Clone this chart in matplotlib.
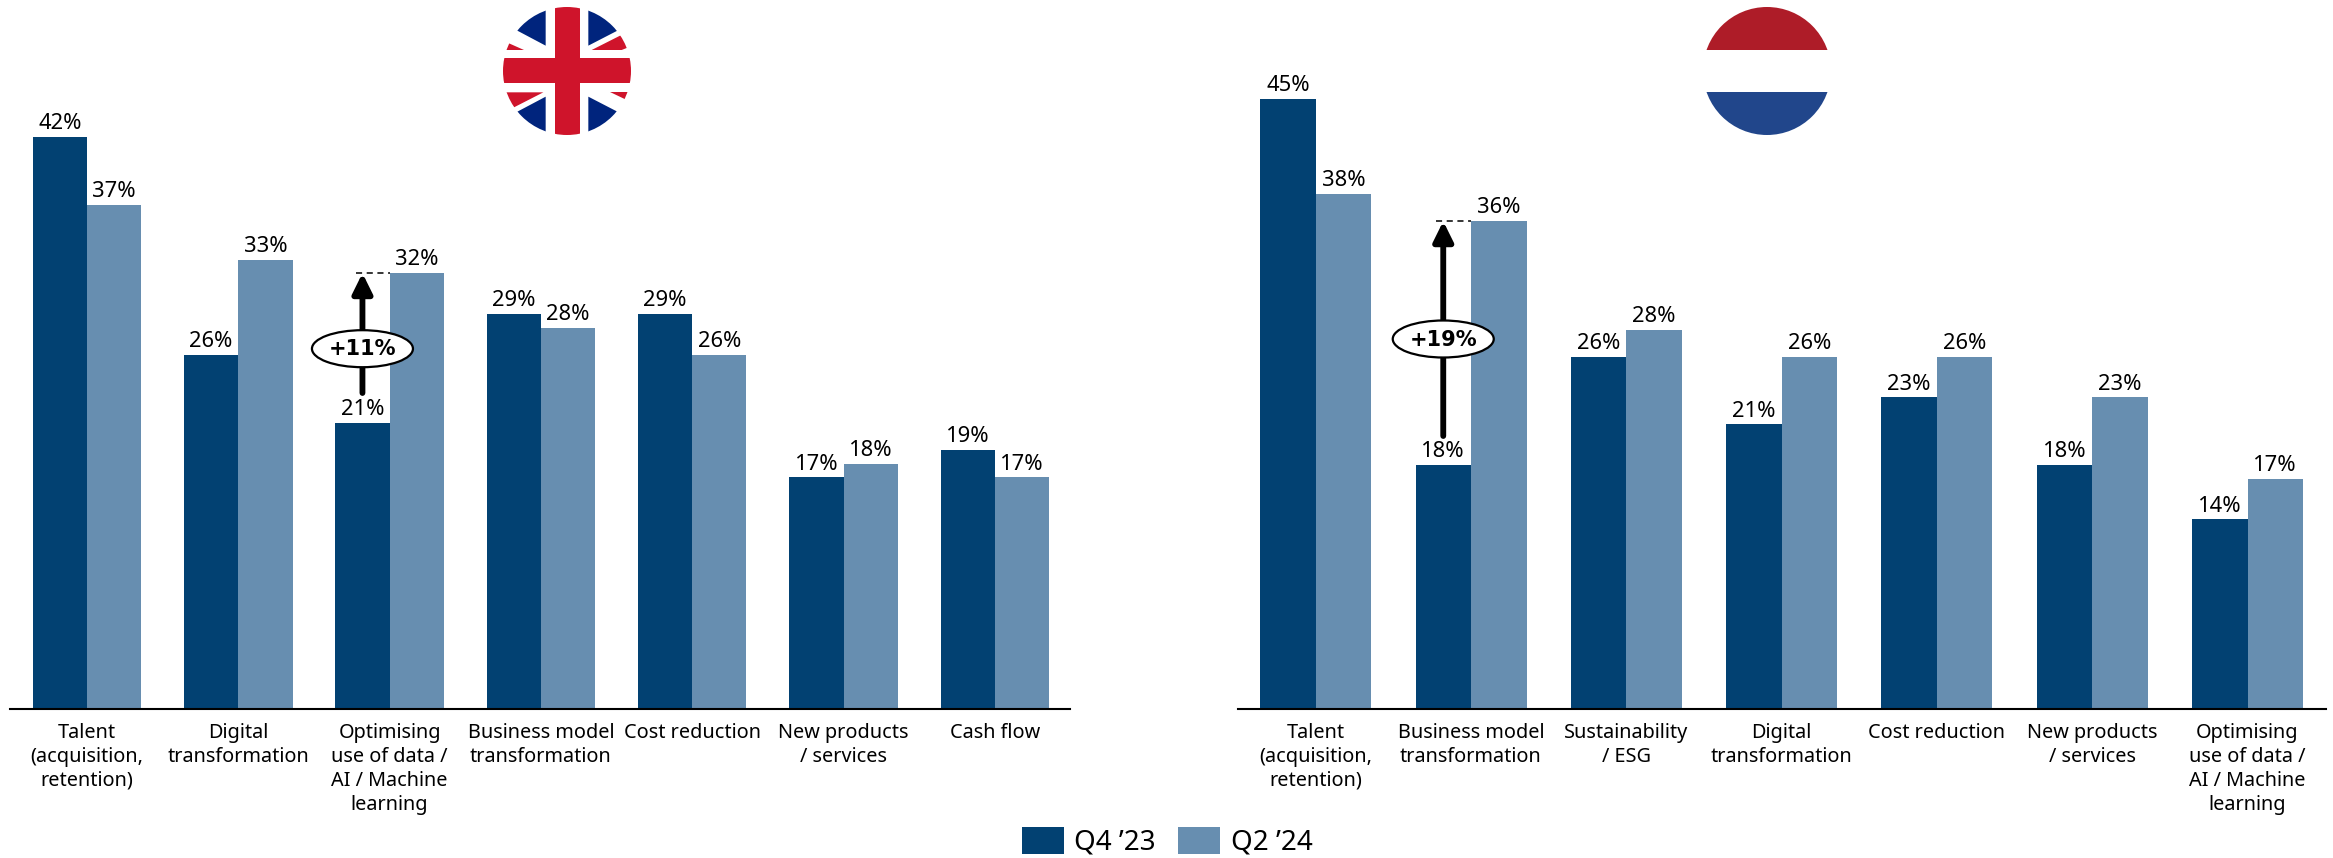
import matplotlib
matplotlib.use("Agg")
import matplotlib.pyplot as plt
from matplotlib.patches import Circle, Ellipse, Polygon, Rectangle

plt.rcParams['font.family'] = ['Noto Sans', 'DejaVu Sans']

W, H = 2333, 858
DARK = '#024172'
LIGHT = '#678EB0'
SERIES = ["Q4 ’23", "Q2 ’24"]

uk_categories = ["Talent\n(acquisition,\nretention)", "Digital\ntransformation",
                 "Optimising\nuse of data /\nAI / Machine\nlearning",
                 "Business model\ntransformation", "Cost reduction",
                 "New products\n/ services", "Cash flow"]
uk_q4_23 = [42, 26, 21, 29, 29, 17, 19]
uk_q2_24 = [37, 33, 32, 28, 26, 18, 17]

nl_categories = ["Talent\n(acquisition,\nretention)", "Business model\ntransformation",
                 "Sustainability\n/ ESG", "Digital\ntransformation", "Cost reduction",
                 "New products\n/ services",
                 "Optimising\nuse of data /\nAI / Machine\nlearning"]
nl_q4_23 = [45, 18, 26, 21, 23, 18, 14]
nl_q2_24 = [38, 36, 28, 26, 26, 23, 17]

BASE_Y = 709
VALUE_PT = 15.8
CATEGORY_PT = 14.3


def make_panel(fig, x0, x1, center0, spacing, bar_px, px_per_pct, cats, a, b):
    ax = fig.add_axes([x0 / W, 1 - BASE_Y / H, (x1 - x0) / W, BASE_Y / H])
    ax.set_xlim((x0 - center0) / spacing, (x1 - center0) / spacing)
    ax.set_ylim(0, BASE_Y / px_per_pct)
    ax.patch.set_alpha(0)
    w = bar_px / spacing
    pos = list(range(len(cats)))
    b1 = ax.bar([p - w / 2 for p in pos], a, w, color=DARK, label=SERIES[0])
    b2 = ax.bar([p + w / 2 for p in pos], b, w, color=LIGHT, label=SERIES[1])
    for bars in (b1, b2):
        ax.bar_label(bars, fmt='%d%%', padding=2.0, fontsize=VALUE_PT, color='black')
    for s in ('top', 'left', 'right'):
        ax.spines[s].set_visible(False)
    ax.spines['bottom'].set_linewidth(1.5)
    ax.spines['bottom'].set_color('black')
    ax.set_yticks([])
    ax.set_xticks(pos)
    ax.set_xticklabels(cats, fontsize=CATEGORY_PT, linespacing=1.26)
    ax.tick_params(axis='x', length=0, pad=10)
    return ax, b1, b2


fig = plt.figure(figsize=(W / 100, H / 100), dpi=100, facecolor='white')

ax_uk, uk_b1, uk_b2 = make_panel(fig, 10, 1070, 87, 151.3, 54.3, 13.62,
                                 uk_categories, uk_q4_23, uk_q2_24)
ax_nl, nl_b1, nl_b2 = make_panel(fig, 1238, 2326, 1315.7, 155.3, 55.5, 13.55,
                                 nl_categories, nl_q4_23, nl_q2_24)

# Overlay in pixel space for flags and change callouts
ov = fig.add_axes([0, 0, 1, 1], zorder=5)
ov.set_xlim(0, W)
ov.set_ylim(H, 0)
ov.axis('off')
ov.patch.set_alpha(0)


def callout(ax, bar, value, y_start, y_ell, text):
    """Upward arrow from a bar label to the level of the later value."""
    x_data = bar.get_x() + bar.get_width() / 2
    right_edge = bar.get_x() + bar.get_width()
    ax.annotate('', xy=(x_data, value), xycoords='data',
                xytext=(x_data, (BASE_Y - y_start) * ax.get_ylim()[1] / BASE_Y),
                arrowprops=dict(arrowstyle='-|>,head_width=0.42,head_length=0.85',
                                lw=4.2, color='black', shrinkA=0, shrinkB=0,
                                mutation_scale=14),
                zorder=6)
    ax.plot([x_data - 0.045, right_edge], [value, value], color='black', lw=1.1,
            dashes=(4, 3), zorder=6)
    px, _ = ov.transData.inverted().transform(ax.transData.transform((x_data, 0)))
    ov.add_patch(Ellipse((px, y_ell), 101, 37, fc='white', ec='black', lw=1.6, zorder=7))
    ov.text(px, y_ell + 0.5, text, ha='center', va='center', fontsize=15,
            family='DejaVu Sans', fontweight='bold', color='black', zorder=8)


callout(ax_uk, uk_b1[2], uk_q2_24[2], 393, 348.7, '+11%')
callout(ax_nl, nl_b1[1], nl_q2_24[1], 436, 339, '+19%')


def clipped(patch, clip):
    ov.add_patch(patch)
    patch.set_clip_path(clip)


# UK flag
cx, cy, r = 567, 71, 64
uk_clip = Circle((cx, cy), r, transform=ov.transData)
clipped(Circle((cx, cy), r, fc='white', ec='none'), uk_clip)
zx = lambda v: 280 + v / 3
zy = lambda v: v / 3
BLUE = '#00247D'
RED = '#CF142B'
for pts in ([(797, 0), (797, 137), (680, 75), (680, 0)],
            [(925, 0), (925, 137), (1045, 75), (1045, 0)],
            [(797, 430), (797, 290), (680, 352), (680, 430)],
            [(925, 430), (925, 290), (1045, 352), (1045, 430)]):
    clipped(Polygon([(zx(a), zy(b)) for a, b in pts], fc=BLUE, ec='none'), uk_clip)
for pts in ([(660, 150), (660, 118), (732, 150)],
            [(935, 150), (1030, 102), (1050, 140), (1025, 150)],
            [(790, 277), (702, 322), (670, 330), (670, 277)],
            [(990, 277), (1060, 277), (1060, 310)]):
    clipped(Polygon([(zx(a), zy(b)) for a, b in pts], fc=RED, ec='none'), uk_clip)
clipped(Rectangle((cx - 12.5, cy - r), 25, 2 * r, fc=RED, ec='none'), uk_clip)
clipped(Rectangle((cx - r, 58.3), 2 * r, 25, fc=RED, ec='none'), uk_clip)

# Netherlands flag
cx, cy, r = 1767, 71, 64
nl_clip = Circle((cx, cy), r, transform=ov.transData)
clipped(Rectangle((cx - r, cy - r), 2 * r, 49.5 - (cy - r), fc='#AE1C28', ec='none'), nl_clip)
clipped(Rectangle((cx - r, 92.3), 2 * r, cy + r - 92.3, fc='#21468B', ec='none'), nl_clip)

fig.legend(handles=[uk_b1, uk_b2], labels=SERIES, loc='lower left',
           bbox_to_anchor=(1022 / W, 1 - 857 / H), ncol=2, frameon=False, fontsize=20,
           borderpad=0, borderaxespad=0, handlelength=1.51, handleheight=1.15,
           handletextpad=0.38, columnspacing=0.8)

fig.savefig('out.png', dpi=100, facecolor='white')
